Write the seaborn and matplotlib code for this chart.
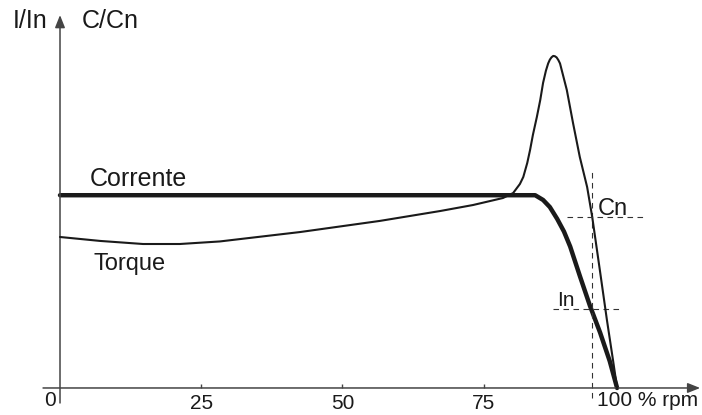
import matplotlib
matplotlib.use("Agg")
import matplotlib.pyplot as plt
import seaborn as sns
import numpy as np

# ---- data ----
# speed in % of synchronous rpm
current_x = [0, 82.3, 84.1, 85.5, 86.7, 88.0, 89.2, 90.3, 92.0, 93.8, 95.6, 97.3, 98.6]
current_y = [2.44, 2.44, 2.44, 2.38, 2.29, 2.14, 1.98, 1.79, 1.42, 1.04, 0.70, 0.34, 0.0]   # I/In

torque_x = [0, 7.1, 14.7, 21.2, 28.3, 31.9, 42.5, 56.6, 67.3, 73.1, 78.4, 80.2, 81.4, 82.0,
            82.7, 83.2, 83.7, 84.4, 85.0, 85.5, 86.0, 86.4, 86.7, 87.0, 87.3, 87.6, 87.9,
            88.2, 88.5, 89.7, 90.8, 92.0, 93.3, 94.2, 95.6, 96.8, 97.9, 98.6]
torque_y = [0.883, 0.860, 0.842, 0.842, 0.857, 0.871, 0.912, 0.977, 1.035, 1.070, 1.111, 1.140,
            1.193, 1.234, 1.316, 1.392, 1.480, 1.585, 1.684, 1.784, 1.855, 1.898, 1.920, 1.934,
            1.942, 1.940, 1.933, 1.918, 1.898, 1.743, 1.550, 1.351, 1.175, 1.000, 0.678, 0.398,
            0.158, 0.0]   # C/Cn

x_ticks = [25, 50, 75]
x_tick_labels = ["25", "50", "75"]
nominal_speed = 94.2       # speed where torque = Cn
torque_ref = 1.0           # Cn
current_ref = 1.0          # In

# ---- style ----
sns.set_theme(style="white")
plt.rcParams["font.family"] = ["Liberation Sans", "DejaVu Sans"]
ink = "#1a1a1a"

fig = plt.figure(figsize=(7.02, 4.15), dpi=100)
ax = fig.add_axes([0, 0, 1, 1])
ax2 = ax.twinx()
ax2.set_position([0, 0, 1, 1])

ax.set_xlim(-10.62, 113.63)
ax.set_ylim(-0.342, 4.911)     # I/In scale
ax2.set_ylim(-0.158, 2.269)    # C/Cn scale

for a in (ax, ax2):
    for s in a.spines.values():
        s.set_visible(False)
    a.set_yticks([])
    a.patch.set_visible(False)
    a.grid(False)

# curves
sns.lineplot(x=current_x, y=current_y, ax=ax, color=ink, linewidth=3.2, sort=False)
sns.lineplot(x=torque_x, y=torque_y, ax=ax2, color=ink, linewidth=1.5, sort=False)

# reference dashed lines
dash = dict(color="#333333", linewidth=0.8, linestyle=(0, (5, 4)))
ax.plot([nominal_speed, nominal_speed], [-0.127, 2.76], **dash)
ax2.plot([89.7, 103.2], [torque_ref, torque_ref], **dash)
ax.plot([87.3, 99.5], [current_ref, current_ref], **dash)

# axes with arrows
arrow = dict(arrowstyle="-|>,head_length=0.75,head_width=0.3", mutation_scale=10,
             color="#444444", linewidth=1.1, shrinkA=0, shrinkB=0)
ax.annotate("", xy=(113.3, 0), xytext=(-3.0, 0), arrowprops=arrow)
ax.annotate("", xy=(0, 4.72), xytext=(0, -0.19), arrowprops=arrow)

# x ticks
ax.set_xticks(x_ticks)
ax.set_xticklabels(x_tick_labels)
ax.xaxis.set_ticks_position("bottom")
ax.spines["bottom"].set_position(("data", 0))
ax.tick_params(axis="x", direction="in", length=3, width=1, color="#444444",
               pad=4, labelsize=15, labelcolor=ink)
ax.text(-1.77, -0.04, "0", ha="center", va="top", fontsize=15, color=ink)
ax.text(95.0, -0.04, "100 % rpm", ha="left", va="top", fontsize=15, color=ink)

# labels
ax.text((13 - 60) / 5.65, (388 - 28) / 79, "I/In", ha="left", va="baseline", fontsize=18, color=ink)
ax.text((82 - 60) / 5.65, (388 - 28) / 79, "C/Cn", ha="left", va="baseline", fontsize=18, color=ink)
ax.text(5.3, 2.557, "Corrente", ha="left", va="baseline", fontsize=18, color=ink)
ax.text(5.9, 1.494, "Torque", ha="left", va="baseline", fontsize=17, color=ink)
ax2.text(95.1, (388 - 215) / 171, "Cn", ha="left", va="baseline", fontsize=17, color=ink)
ax.text(87.9, (388 - 306) / 79, "In", ha="left", va="baseline", fontsize=15, color=ink)

fig.savefig("out.png", dpi=100)
